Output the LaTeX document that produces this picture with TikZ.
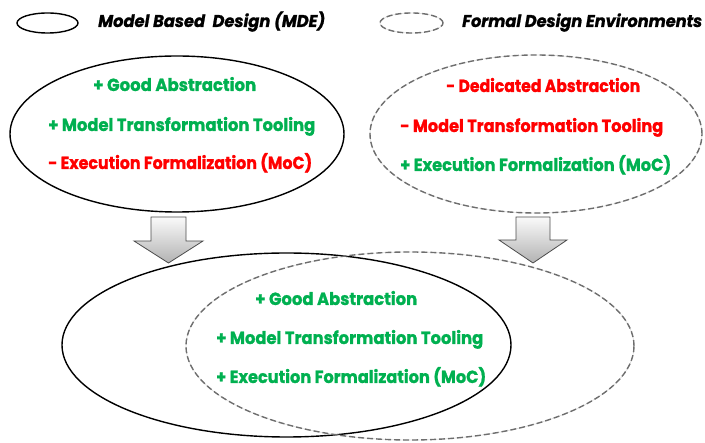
\documentclass[tikz,border=0pt]{standalone}
\usepackage{fontspec}
\newfontfamily\tw{Poppins}[BoldFeatures={FakeBold=1.2},BoldItalicFeatures={FakeBold=1.2}]
\usetikzlibrary{shapes.geometric}
\definecolor{okgreen}{RGB}{0,176,80}
\definecolor{bad}{RGB}{255,0,0}
\definecolor{dashgray}{RGB}{110,110,110}
\newcommand\fitw[2]{\resizebox{#1pt}{\height}{#2}}
\tikzset{
 solidell/.style={ellipse, draw=black, line width=1.4pt, inner sep=0pt},
 dashell/.style={ellipse, draw=dashgray, line width=1.4pt, dash pattern=on 6pt off 3pt, inner sep=0pt,
   preaction={draw=gray!25, line width=0.7pt, solid}},
 lbl/.style={anchor=base west, inner sep=0pt, font=\tw\bfseries\fontsize{17.5}{20}\selectfont},
 pro/.style={lbl, text=okgreen},
 con/.style={lbl, text=bad},
 leg/.style={lbl, text=black, font=\tw\bfseries\itshape\fontsize{17}{20}\selectfont},
 blockarrow/.style={draw=black!70, line width=0.8pt, top color=gray!4, bottom color=gray!60, line join=miter}
}
\begin{document}
\begin{tikzpicture}[x=1pt,y=-1pt]
\useasboundingbox (0,0) rectangle (705,443);
% legend
\node[solidell, minimum width=61pt, minimum height=20pt] (legmde) at (47.5,23) {};
\node[leg] (legmdetxt) at (98,27) {\fitw{227}{Model Based\ \ Design (MDE)}};
\node[dashell, minimum width=63pt, minimum height=20pt] (legfde) at (411.5,23) {};
\node[leg] (legfdetxt) at (462,27) {\fitw{240}{Formal Design Environments}};
% top ellipses
\node[solidell, minimum width=334pt, minimum height=156pt] (mde) at (177,134) {};
\node[dashell, minimum width=332pt, minimum height=158pt] (fde) at (536,134) {};
% bottom ellipses
\node[solidell, minimum width=449pt, minimum height=184pt] (mdeb) at (286.5,345) {};
\node[dashell, minimum width=448pt, minimum height=188pt] (fdeb) at (410,346) {};
% arrows
\path[blockarrow] (151,217) -- (186,217) -- (186,241) -- (203,241) -- (168.5,263) -- (134,241) -- (151,241) -- cycle;
\path[blockarrow] (516,217) -- (550,217) -- (550,240) -- (567,240) -- (533,263) -- (499,240) -- (516,240) -- cycle;
% top-left texts
\node[pro] (tl1) at (93,91) {\fitw{163}{+ Good Abstraction}};
\node[pro] (tl2) at (48,131) {\fitw{267}{+ Model Transformation Tooling}};
\node[con] (tl3) at (48,169) {\fitw{264}{- Execution Formalization (MoC)}};
% top-right texts
\node[con] (tr1) at (446,92) {\fitw{194}{- Dedicated Abstraction}};
\node[con] (tr2) at (400,132) {\fitw{263}{- Model Transformation Tooling}};
\node[pro] (tr3) at (400,171) {\fitw{271}{+ Execution Formalization (MoC)}};
% bottom texts
\node[pro] (b1) at (255,305) {\fitw{162}{+ Good Abstraction}};
\node[pro] (b2) at (216,344) {\fitw{267}{+ Model Transformation Tooling}};
\node[pro] (b3) at (216,383) {\fitw{270}{+ Execution Formalization (MoC)}};
\end{tikzpicture}
\end{document}
